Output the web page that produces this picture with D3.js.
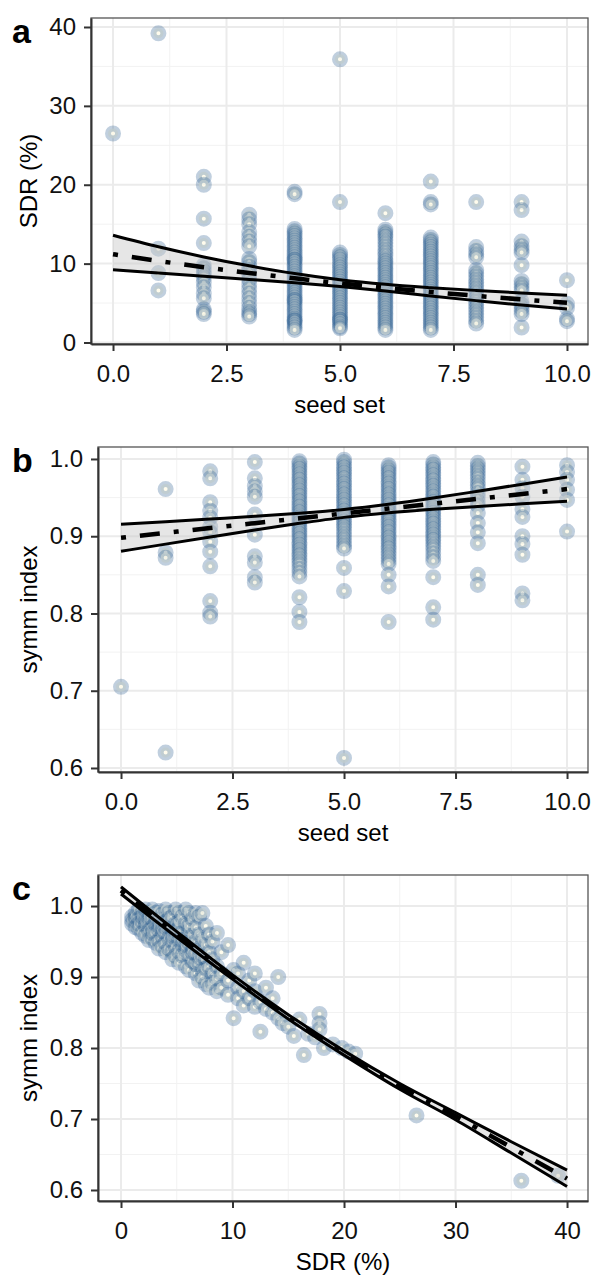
<!DOCTYPE html>
<html>
<head>
<meta charset="utf-8">
<script src="https://cdn.jsdelivr.net/npm/d3@7"></script>
<style>
body{margin:0;background:#fff;}
svg{display:block;font-family:"Liberation Sans",Arial,Helvetica,sans-serif;}
</style>
</head>
<body>
<svg></svg>
<script>
// seed set classes (x of panels a and b)
var seedSet = [0,1,2,3,4,5,6,7,8,9,10];

// panel a: SDR (%) observations for each seed set class
var sdrBySeed = [
    [26.5],
    [39.2, 11.9, 8.8, 6.6],
    [21.0, 20.0, 15.7, 12.6, 9.8, 9.4, 9.0, 8.6, 8.2, 7.6, 7.0, 6.2, 5.6, 4.2, 3.9, 3.6],
    [16.2, 15.6, 15.0, 14.0, 13.4, 12.8, 12.2, 10.6, 10.2, 9.6, 9.2, 8.6, 8.0, 7.4, 6.8, 6.2, 5.6, 5.0, 4.4, 3.9, 3.6, 3.3],
    [19.1, 18.8, 14.4, 14.1, 13.8, 13.5, 13.2, 12.9, 12.6, 12.3, 12.0, 11.7, 11.4, 11.1, 10.8, 10.5, 10.5, 10.2, 9.9, 9.6, 9.3, 9.0, 8.7, 8.4,
     8.1, 7.8, 7.5, 7.2, 6.9, 6.6, 6.3, 6.0, 5.7, 5.4, 5.4, 5.1, 4.8, 4.5, 4.2, 3.9, 3.6, 3.3, 3.0, 2.8, 2.8, 2.5, 2.2, 1.9, 1.6],
    [35.9, 17.8, 11.4, 11.1, 10.8, 10.5, 10.1, 9.8, 9.5, 9.2, 8.9, 8.6, 8.3, 8.0, 7.7, 7.4, 7.1, 6.8, 6.5, 6.2, 5.9, 5.6, 5.3, 5.0,
     4.7, 4.4, 4.1, 3.8, 3.5, 3.2, 2.9, 2.9, 2.6, 2.3, 2.0, 1.8],
    [16.4, 14.3, 14.0, 13.7, 13.4, 13.0, 12.6, 12.2, 11.8, 11.4, 11.0, 10.6, 10.3, 10.0, 9.7, 9.4, 9.1, 8.8, 8.5, 8.2, 7.9, 7.6, 7.3, 7.0,
     6.7, 6.4, 6.1, 5.8, 5.5, 5.2, 4.9, 4.6, 4.3, 4.0, 3.7, 3.4, 3.1, 2.8, 2.5, 2.2, 1.9, 1.6],
    [20.4, 17.8, 17.5, 13.3, 13.0, 12.7, 12.4, 12.1, 11.8, 11.5, 11.2, 10.9, 10.6, 10.3, 10.0, 9.7, 9.4, 9.1, 8.8, 8.5, 8.2, 7.9, 7.6, 7.3,
     7.0, 6.7, 6.4, 6.1, 5.8, 5.5, 5.2, 4.9, 4.6, 4.3, 4.0, 3.7, 3.4, 3.1, 2.8, 2.5, 2.2, 1.9, 1.6],
    [17.8, 12.1, 11.6, 11.2, 10.8, 9.2, 8.8, 8.4, 8.0, 7.6, 7.2, 6.8, 6.4, 6.0, 5.6, 5.2, 4.8, 4.4, 4.0, 3.6, 3.2, 2.8, 2.4],
    [17.8, 16.8, 12.8, 12.2, 11.8, 11.4, 9.8, 7.8, 7.4, 7.0, 6.6, 5.2, 4.8, 4.4, 4.0, 3.6, 1.9],
    [7.9, 4.9, 4.4, 3.0, 2.7]
];

// panel b: symm index observations for each seed set class
var symmBySeed = [
    [0.705],
    [0.961, 0.879, 0.872, 0.620],
    [0.984, 0.975, 0.944, 0.933, 0.924, 0.912, 0.905, 0.893, 0.880, 0.861, 0.816, 0.801, 0.796],
    [0.996, 0.975, 0.965, 0.958, 0.951, 0.928, 0.902, 0.874, 0.866, 0.847, 0.840],
    [0.997, 0.994, 0.990, 0.987, 0.983, 0.980, 0.976, 0.973, 0.969, 0.966, 0.962, 0.959, 0.955, 0.952, 0.948, 0.945, 0.941, 0.938,
     0.934, 0.931, 0.927, 0.924, 0.920, 0.917, 0.913, 0.910, 0.906, 0.903, 0.899, 0.896, 0.892, 0.889, 0.885, 0.882, 0.878, 0.875,
     0.871, 0.867, 0.863, 0.858, 0.853, 0.848, 0.821, 0.802, 0.789],
    [0.999, 0.996, 0.992, 0.989, 0.985, 0.982, 0.978, 0.975, 0.971, 0.968, 0.964, 0.961, 0.957, 0.954, 0.950, 0.947, 0.943, 0.940,
     0.936, 0.933, 0.929, 0.926, 0.922, 0.919, 0.915, 0.912, 0.908, 0.904, 0.900, 0.896, 0.892, 0.888, 0.884, 0.859, 0.829, 0.613],
    [0.992, 0.989, 0.985, 0.982, 0.978, 0.975, 0.971, 0.968, 0.964, 0.961, 0.957, 0.954, 0.950, 0.947, 0.943, 0.940, 0.936, 0.933,
     0.929, 0.926, 0.922, 0.919, 0.915, 0.912, 0.908, 0.905, 0.901, 0.898, 0.894, 0.891, 0.887, 0.884, 0.880, 0.876, 0.872, 0.868,
     0.864, 0.850, 0.835, 0.789],
    [0.996, 0.993, 0.989, 0.986, 0.982, 0.979, 0.975, 0.972, 0.968, 0.965, 0.961, 0.958, 0.954, 0.951, 0.947, 0.944, 0.940, 0.937,
     0.933, 0.930, 0.926, 0.923, 0.919, 0.916, 0.912, 0.909, 0.905, 0.902, 0.898, 0.895, 0.891, 0.887, 0.883, 0.878, 0.873, 0.868,
     0.847, 0.808, 0.792],
    [0.995, 0.991, 0.987, 0.983, 0.979, 0.975, 0.970, 0.966, 0.962, 0.956, 0.951, 0.945, 0.940, 0.930, 0.917, 0.905, 0.891, 0.850, 0.837],
    [0.990, 0.973, 0.962, 0.951, 0.935, 0.925, 0.900, 0.890, 0.876, 0.826, 0.817],
    [0.992, 0.983, 0.973, 0.960, 0.947, 0.906]
];

// panel c: SDR (%) values and the symm index observed at each of them
var sdrC = [1.0, 1.3, 1.6, 1.9, 2.2, 2.5, 2.8, 3.1, 3.4, 3.7, 4.0, 4.3, 4.6, 4.9, 5.2, 5.5, 5.8, 6.1, 6.4, 6.7, 7.0, 7.3, 7.6, 7.9,
    8.2, 8.6, 9.0, 9.6, 10.1, 10.5, 11.0, 11.5, 12.0, 12.5, 13.0, 13.6, 14.1, 14.5, 15.0, 15.5, 16.0, 16.4, 16.8, 17.4, 17.8,
    18.2, 19.0, 19.8, 20.4, 21.0, 26.5, 35.9, 39.2];
var symmC = [
    [0.985, 0.975, 0.980], [0.990, 0.980, 0.970, 0.985], [0.995, 0.982, 0.968, 0.975], [0.990, 0.978, 0.962, 0.985],
    [0.995, 0.985, 0.972, 0.958, 0.978], [0.990, 0.978, 0.965, 0.952, 0.984], [0.995, 0.982, 0.970, 0.955, 0.962],
    [0.990, 0.975, 0.962, 0.948, 0.982], [0.993, 0.980, 0.966, 0.952, 0.940, 0.972], [0.988, 0.972, 0.958, 0.944, 0.965],
    [0.995, 0.978, 0.962, 0.948, 0.935, 0.970], [0.990, 0.970, 0.955, 0.940, 0.982], [0.985, 0.966, 0.950, 0.935, 0.925, 0.958],
    [0.995, 0.975, 0.958, 0.942, 0.930, 0.965], [0.990, 0.968, 0.952, 0.936, 0.920, 0.978], [0.985, 0.962, 0.945, 0.930, 0.952],
    [0.995, 0.975, 0.955, 0.938, 0.915, 0.945], [0.990, 0.965, 0.948, 0.930, 0.910, 0.972], [0.982, 0.958, 0.940, 0.922, 0.935],
    [0.990, 0.970, 0.950, 0.932, 0.905, 0.918], [0.985, 0.960, 0.940, 0.920, 0.895, 0.928], [0.990, 0.952, 0.930, 0.910, 0.900],
    [0.972, 0.945, 0.925, 0.890, 0.912], [0.960, 0.935, 0.915, 0.885], [0.950, 0.925, 0.905, 0.892], [0.962, 0.915, 0.880, 0.898],
    [0.935, 0.905, 0.885], [0.945, 0.895, 0.875], [0.910, 0.842], [0.905, 0.885, 0.870], [0.920, 0.880, 0.860], [0.895, 0.870],
    [0.905, 0.880, 0.858], [0.865, 0.823], [0.885, 0.855], [0.870, 0.850], [0.900, 0.842], [0.835], [0.830], [0.817], [0.840],
    [0.790], [0.820], [0.815], [0.848, 0.835, 0.826], [0.800], [0.805], [0.800], [0.795], [0.792], [0.705], [0.613], [0.620]
];

// fitted curves with confidence band
var fitSeed = [0,1,2,3,4,5,6,7,8,9,10];
var sdrFit = [11.2, 10.34, 9.55, 8.82, 8.14, 7.52, 6.94, 6.41, 5.92, 5.46, 5.04];
var sdrHi  = [13.6, 12.14, 10.85, 9.72, 8.74, 7.95, 7.37, 6.95, 6.60, 6.29, 6.0];
var sdrLo  = [9.23, 8.81, 8.40, 8.00, 7.58, 7.11, 6.54, 5.91, 5.31, 4.74, 4.24];
var symmFit = [0.898, 0.9043, 0.9106, 0.9169, 0.9232, 0.9295, 0.9358, 0.9421, 0.9484, 0.9547, 0.961];
var symmHi  = [0.9155, 0.9188, 0.9222, 0.9257, 0.9297, 0.9346, 0.9413, 0.9494, 0.9583, 0.9674, 0.9767];
var symmLo  = [0.8805, 0.8898, 0.8990, 0.9081, 0.9167, 0.9244, 0.9303, 0.9348, 0.9385, 0.9420, 0.9453];
var fitSdr = [0,5,10,15,20,25,30,35,40];
var symmFitC = [1.022, 0.960, 0.900, 0.844, 0.793, 0.746, 0.704, 0.660, 0.616];
var symmHiC  = [1.027, 0.964, 0.903, 0.847, 0.796, 0.750, 0.709, 0.668, 0.628];
var symmLoC  = [1.017, 0.956, 0.897, 0.841, 0.790, 0.742, 0.699, 0.652, 0.605];

// axis ticks
var seedTicks = [0, 2.5, 5, 7.5, 10];
var seedMinor = [1.25, 3.75, 6.25, 8.75];
var sdrTicks = [0, 10, 20, 30, 40];
var sdrMinor = [5, 15, 25, 35];
var symmTicks = [0.6, 0.7, 0.8, 0.9, 1.0];
var symmMinor = [0.65, 0.75, 0.85, 0.95];

var width = 597, height = 1281;
var svg = d3.select('svg').attr('width', width).attr('height', height);
svg.append('rect').attr('width', width).attr('height', height).attr('fill', '#fff');

function flatten(xs, groups){
    var out = [];
    xs.forEach(function(x, i){
        groups[i].forEach(function(v){ out.push([x, v]); });
    });
    return out;
}

function panel(p){
    var x = d3.scaleLinear().domain(p.xDomain).range([p.left, p.right]);
    var y = d3.scaleLinear().domain(p.yDomain).range([p.bottom, p.top]);
    var g = svg.append('g');

    // grid
    g.selectAll('.minx').data(p.xMinor).enter().append('line')
        .attr('x1', x).attr('x2', x).attr('y1', p.top).attr('y2', p.bottom)
        .attr('stroke', '#f2f2f2').attr('stroke-width', 1);
    g.selectAll('.miny').data(p.yMinor).enter().append('line')
        .attr('y1', y).attr('y2', y).attr('x1', p.left).attr('x2', p.right)
        .attr('stroke', '#f2f2f2').attr('stroke-width', 1);
    g.selectAll('.majx').data(p.xTicks).enter().append('line')
        .attr('x1', x).attr('x2', x).attr('y1', p.top).attr('y2', p.bottom)
        .attr('stroke', '#ebebeb').attr('stroke-width', 2);
    g.selectAll('.majy').data(p.yTicks).enter().append('line')
        .attr('y1', y).attr('y2', y).attr('x1', p.left).attr('x2', p.right)
        .attr('stroke', '#ebebeb').attr('stroke-width', 2);

    // points
    g.selectAll('circle.pt').data(p.points).enter().append('circle')
        .attr('class', 'pt')
        .attr('cx', function(d){ return x(d[0]); })
        .attr('cy', function(d){ return y(d[1]); })
        .attr('r', 5)
        .attr('fill', '#fffbe8').attr('fill-opacity', 0.8)
        .attr('stroke', '#2f6192').attr('stroke-opacity', 0.3)
        .attr('stroke-width', 6);

    // confidence band and fit
    var fx = p.fitX;
    var area = d3.area()
        .x(function(d, i){ return x(fx[i]); })
        .y0(function(d, i){ return y(p.lo[i]); })
        .y1(function(d, i){ return y(p.hi[i]); })
        .curve(d3.curveMonotoneX);
    var line = function(vals){
        return d3.line()
            .x(function(d, i){ return x(fx[i]); })
            .y(function(d){ return y(d); })
            .curve(d3.curveMonotoneX)(vals);
    };
    g.append('path').attr('d', area(p.fit))
        .attr('fill', '#c8c8c8').attr('fill-opacity', 0.45);
    g.append('path').attr('d', line(p.hi)).attr('fill', 'none')
        .attr('stroke', '#000').attr('stroke-width', 3);
    g.append('path').attr('d', line(p.lo)).attr('fill', 'none')
        .attr('stroke', '#000').attr('stroke-width', 3);
    g.append('path').attr('d', line(p.fit)).attr('fill', 'none')
        .attr('stroke', '#000').attr('stroke-width', 4.5)
        .attr('stroke-dasharray', '5,14,20,14');

    // frame
    g.append('rect').attr('x', p.left).attr('y', p.top)
        .attr('width', p.right - p.left).attr('height', p.bottom - p.top)
        .attr('fill', 'none').attr('stroke', '#555').attr('stroke-width', 1.3);

    // axes
    var xa = g.append('g').attr('transform', 'translate(0,' + p.bottom + ')')
        .call(d3.axisBottom(x).tickValues(p.xTicks).tickFormat(p.xFormat)
            .tickSize(7).tickSizeOuter(0).tickPadding(14));
    var ya = g.append('g').attr('transform', 'translate(' + p.left + ',0)')
        .call(d3.axisLeft(y).tickValues(p.yTicks).tickFormat(p.yFormat)
            .tickSize(7).tickSizeOuter(0).tickPadding(8));
    [xa, ya].forEach(function(a){
        a.attr('font-size', 24).attr('font-family', null);
        a.select('.domain').attr('stroke', '#333').attr('stroke-width', 2);
        a.selectAll('.tick line').attr('stroke', '#333').attr('stroke-width', 2);
        a.selectAll('.tick text').attr('fill', '#111');
    });

    // titles
    g.append('text').text(p.xTitle)
        .attr('x', (p.left + p.right) / 2).attr('y', p.bottom + 69)
        .attr('text-anchor', 'middle').attr('font-size', 24).attr('fill', '#000');
    g.append('text').text(p.yTitle)
        .attr('transform', 'translate(37,' + ((p.top + p.bottom) / 2) + ') rotate(-90)')
        .attr('text-anchor', 'middle').attr('font-size', 24).attr('fill', '#000');
    g.append('text').text(p.label)
        .attr('x', 12).attr('y', p.top + 25)
        .attr('font-size', 34).attr('font-weight', 'bold').attr('fill', '#000');
}

var f1 = d3.format('.1f'), f0 = d3.format('d');

panel({
    label: 'a', left: 91, right: 588, top: 18, bottom: 344,
    xDomain: [-0.485, 10.463], yDomain: [-0.19, 41.14],
    xTicks: seedTicks, xMinor: seedMinor, yTicks: sdrTicks, yMinor: sdrMinor,
    xFormat: f1, yFormat: f0, xTitle: 'seed set', yTitle: 'SDR (%)',
    points: flatten(seedSet, sdrBySeed),
    fitX: fitSeed, fit: sdrFit, hi: sdrHi, lo: sdrLo
});
panel({
    label: 'b', left: 98, right: 588, top: 447, bottom: 772,
    xDomain: [-0.516, 10.47], yDomain: [0.5948, 1.0155],
    xTicks: seedTicks, xMinor: seedMinor, yTicks: symmTicks, yMinor: symmMinor,
    xFormat: f1, yFormat: f1, xTitle: 'seed set', yTitle: 'symm index',
    points: flatten(seedSet, symmBySeed),
    fitX: fitSeed, fit: symmFit, hi: symmHi, lo: symmLo
});
panel({
    label: 'c', left: 98, right: 588, top: 875, bottom: 1201,
    xDomain: [-2.063, 41.88], yDomain: [0.5845, 1.0437],
    xTicks: sdrTicks, xMinor: sdrMinor, yTicks: symmTicks, yMinor: symmMinor,
    xFormat: f0, yFormat: f1, xTitle: 'SDR (%)', yTitle: 'symm index',
    points: flatten(sdrC, symmC),
    fitX: fitSdr, fit: symmFitC, hi: symmHiC, lo: symmLoC
});
</script>
</body>
</html>
